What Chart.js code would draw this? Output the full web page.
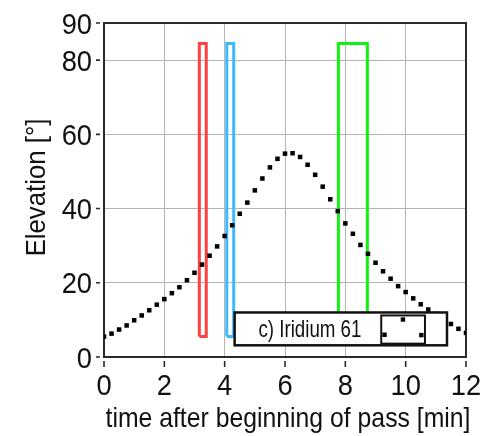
<!DOCTYPE html>
<html>
<head>
<meta charset="utf-8">
<script src="https://cdn.jsdelivr.net/npm/chart.js@4/dist/chart.umd.min.js"></script>
<style>
  html, body { margin: 0; padding: 0; background: #fff; }
  #wrap { width: 485px; height: 436px; }
</style>
</head>
<body>
<div id="wrap"><canvas id="myChart" width="485" height="436"></canvas></div>
<script>
// elevation of the pass, one sample every quarter minute
const times = [0, 0.25, 0.5, 0.75, 1, 1.25, 1.5, 1.75, 2, 2.25, 2.5, 2.75, 3, 3.25, 3.5, 3.75,
  4, 4.25, 4.5, 4.75, 5, 5.25, 5.5, 5.75, 6, 6.25, 6.5, 6.75, 7, 7.25, 7.5, 7.75,
  8, 8.25, 8.5, 8.75, 9, 9.25, 9.5, 9.75, 10, 10.25, 10.5, 10.75, 11, 11.25, 11.5, 11.75, 12]
const elevation = [5.5, 6.3, 7.4, 8.5, 9.9, 11.2, 12.6, 14.1, 15.6, 17.2, 18.8, 20.7, 22.7, 24.9, 27.3, 29.8,
  32.6, 35.5, 38.6, 41.6, 44.9, 48.1, 51.1, 53.4, 54.8, 54.9, 53.9, 51.8, 49.1, 45.9, 42.5, 39.3,
  36.0, 33.2, 30.2, 27.8, 25.4, 23.1, 21.1, 19.1, 17.5, 15.8, 14.2, 12.8, 11.6, 10.2, 8.9, 7.6, 6.5]

// the three windows: [t start, t end, elevation low, elevation high]
const windowNames = ['red', 'blue', 'green']
const windowColors = ['#ff4040', '#3db9ff', '#14f014']
const windowBounds = [
  [3.16, 3.39, 5.5, 84.5],
  [4.07, 4.30, 5.5, 84.5],
  [7.77, 8.73, 5.5, 84.5]
]

const xTicks = [0, 2, 4, 6, 8, 10, 12]
const yTicks = [0, 20, 40, 60, 80, 90]
const xTitle = 'time after beginning of pass [min]'
const yTitle = 'Elevation [°]'

const legendLabel = 'c) Iridium 61'
// legend box in data units: outer box, sample box, sample dots
const legendBox = [4.33, 11.37, 3.15, 12.0]
const legendSampleBox = [9.19, 10.64, 3.6, 11.2]
const legendDotsT = [9.3, 9.91, 10.52]
const legendDotsE = [6.0, 10.1, 5.9]

const FONT = "'Liberation Sans', Arial, sans-serif"

// narrow text: Liberation Sans squeezed sideways
function narrowText(ctx, text, x, y, size, sx, align, rot) {
  ctx.save()
  ctx.font = size + 'px ' + FONT
  ctx.textAlign = align
  ctx.textBaseline = 'alphabetic'
  ctx.translate(x, y)
  if (rot) ctx.rotate(rot)
  ctx.scale(sx, 1)
  ctx.fillText(text, 0, 0)
  ctx.restore()
}

const rectData = b => [
  { x: b[0], y: b[2] }, { x: b[0], y: b[3] }, { x: b[1], y: b[3] },
  { x: b[1], y: b[2] }, { x: b[0], y: b[2] }
]

const datasets = [{
  label: 'elevation',
  data: times.map((t, i) => ({ x: t, y: elevation[i] })),
  showLine: false,
  pointStyle: 'rect',
  pointRadius: 3.2,
  pointBorderWidth: 0,
  pointBackgroundColor: '#000',
  borderColor: '#000'
}]
for (let i = 0; i < windowBounds.length; ++i) {
  datasets.push({
    label: windowNames[i],
    data: rectData(windowBounds[i]),
    showLine: true,
    borderColor: windowColors[i],
    borderWidth: 3,
    pointRadius: 0,
    fill: false,
    tension: 0
  })
}

const framePlugin = {
  id: 'frame',
  beforeDatasetsDraw(chart) {
    const ctx = chart.ctx
    const a = chart.chartArea
    const xs = chart.scales.x
    const ys = chart.scales.y
    ctx.save()
    ctx.strokeStyle = '#2a2a2a'
    ctx.lineWidth = 2
    ctx.strokeRect(a.left, a.top, a.right - a.left, a.bottom - a.top)
    // tick marks, set off from the frame
    ctx.lineWidth = 1.6
    ctx.beginPath()
    yTicks.forEach(v => {
      const y = ys.getPixelForValue(v)
      ctx.moveTo(a.left - 8, y)
      ctx.lineTo(a.left - 4, y)
    })
    xTicks.forEach(v => {
      const x = xs.getPixelForValue(v)
      ctx.moveTo(x, a.bottom + 4)
      ctx.lineTo(x, a.bottom + 10)
    })
    ctx.stroke()
    ctx.restore()

    // tick labels and axis titles
    ctx.save()
    ctx.fillStyle = '#111'
    yTicks.forEach(v => {
      narrowText(ctx, String(v), a.left - 12, ys.getPixelForValue(v) + 10.7, 30, 0.91, 'right')
    })
    xTicks.forEach(v => {
      narrowText(ctx, String(v), xs.getPixelForValue(v), a.bottom + 38, 30, 0.91, 'center')
    })
    narrowText(ctx, xTitle, 288, 427, 28, 0.885, 'center')
    narrowText(ctx, yTitle, 45, 187.5, 28, 0.92, 'center', -Math.PI / 2)
    ctx.restore()
  },
  afterDatasetsDraw(chart) {
    const ctx = chart.ctx
    const xs = chart.scales.x
    const ys = chart.scales.y
    const box = b => {
      const x0 = xs.getPixelForValue(b[0]), x1 = xs.getPixelForValue(b[1])
      const y0 = ys.getPixelForValue(b[3]), y1 = ys.getPixelForValue(b[2])
      return [x0, y0, x1 - x0, y1 - y0]
    }
    ctx.save()
    const outer = box(legendBox)
    ctx.fillStyle = '#fff'
    ctx.fillRect(...outer)
    ctx.strokeStyle = '#111'
    ctx.lineWidth = 2.5
    ctx.strokeRect(...outer)
    const inner = box(legendSampleBox)
    ctx.lineWidth = 2
    ctx.strokeRect(...inner)
    ctx.fillStyle = '#000'
    legendDotsT.forEach((t, i) => {
      const x = xs.getPixelForValue(t), y = ys.getPixelForValue(legendDotsE[i])
      ctx.fillRect(x - 2.2, y - 2.2, 4.4, 4.4)
    })
    ctx.fillStyle = '#111'
    narrowText(ctx, legendLabel, (outer[0] + inner[0]) / 2 + 2, outer[1] + outer[3] / 2 + 8, 24, 0.78, 'center')
    ctx.restore()
  }
}

const gridColor = (ctx, ends) =>
  ends.includes(ctx.tick.value) ? 'rgba(0,0,0,0)' : '#b4b4b4'

var ctx = document.getElementById('myChart')
var myChart = new Chart(ctx, {
  type: 'scatter',
  data: { datasets: datasets },
  plugins: [framePlugin],
  options: {
    responsive: false,
    animation: false,
    events: [],
    layout: { padding: { top: 23, right: 19, left: 0, bottom: 0 } },
    plugins: { legend: { display: false }, tooltip: { enabled: false } },
    scales: {
      x: {
        type: 'linear',
        min: 0,
        max: 12,
        afterBuildTicks: s => { s.ticks = xTicks.map(v => ({ value: v })) },
        afterFit: s => { s.height = 79; s.paddingLeft = 0; s.paddingRight = 0 },
        border: { display: false },
        grid: { drawTicks: false, lineWidth: 1, color: c => gridColor(c, [0, 12]) },
        ticks: { display: false }
      },
      y: {
        type: 'linear',
        min: 0,
        max: 90,
        afterBuildTicks: s => { s.ticks = yTicks.map(v => ({ value: v })) },
        afterFit: s => { s.width = 104; s.paddingTop = 0; s.paddingBottom = 0 },
        border: { display: false },
        grid: { drawTicks: false, lineWidth: 1, color: c => gridColor(c, [0, 90]) },
        ticks: { display: false }
      }
    }
  }
})
</script>
</body>
</html>
